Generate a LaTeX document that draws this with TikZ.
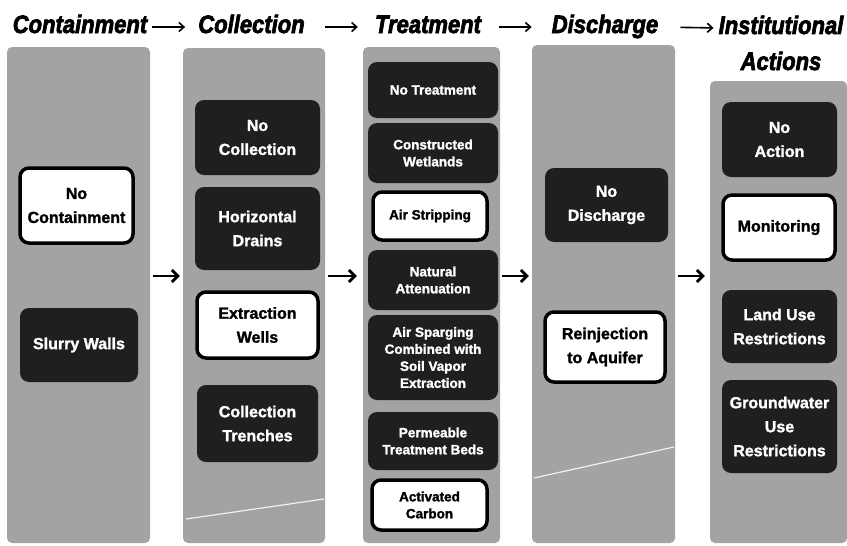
\documentclass[tikz,border=0pt]{standalone}
\usepackage{fontspec}
\setmainfont{Liberation Sans}
\newfontfamily\headfont[FakeBold=3]{Liberation Sans Bold Italic}
\newfontfamily\boxfont[FakeBold=1.5]{Liberation Sans Bold}
\usetikzlibrary{arrows.meta}

\tikzset{
  column/.style={fill=black!36, rounded corners=5pt, inner sep=0pt},
  darkbox/.style={fill=black!88, rounded corners=9pt, text=white, align=center,
    inner sep=0pt, font=\boxfont\fontsize{16}{24}\selectfont},
  litebox/.style={fill=white, draw=black, line width=3.5pt, rounded corners=9pt,
    text=black, align=center, inner sep=0pt, font=\boxfont\fontsize{16}{24}\selectfont},
  smalltext/.style={font=\boxfont\fontsize{13.5}{17}\selectfont},
  header/.style={font=\headfont\fontsize{22}{26}\selectfont,
    inner sep=0pt, text height=18pt, text depth=0pt, anchor=base},
  flow/.style={line width=2.8pt, -{Straight Barb[length=6pt,width=12pt]}},
  headflow/.style={line width=1.6pt, -{Straight Barb[length=5pt,width=9pt]}},
  scratch/.style={white, line width=1.2pt, opacity=0.85},
}
\newcommand{\tall}[1]{\scalebox{1}[1.15]{#1}}

\begin{document}
\begin{tikzpicture}[x=1pt, y=-1pt]
  \useasboundingbox[fill=white] (0,0) rectangle (847,546);

  % stage headings
  \node[header] (h1) at (80,33)    {\tall{Containment}};
  \node[header] (h2) at (251.5,33) {\tall{Collection}};
  \node[header] (h3) at (428,33)   {\tall{Treatment}};
  \node[header] (h4) at (605,33)   {\tall{Discharge}};
  \node[header] (h5) at (781,34)   {\tall{Institutional}};
  \node[header] (h5b) at (781,70)  {\tall{Actions}};

  \draw[headflow, shorten <=5pt, shorten >=13pt] ([yshift=-3pt]h1.east) -- ([yshift=-3pt]h2.west);
  \draw[headflow, shorten <=20pt, shorten >=17pt] ([yshift=-3pt]h2.east) -- ([yshift=-3pt]h3.west);
  \draw[headflow, shorten <=18pt, shorten >=20pt] ([yshift=-3pt]h3.east) -- ([yshift=-3pt]h4.west);
  \draw[headflow, shorten <=22pt, shorten >=5pt] ([yshift=-3pt]h4.east) -- ([yshift=-3pt]h5.west);

  % stage columns
  \node[column, minimum width=143pt, minimum height=496pt] (c1) at (78.5,295)  {};
  \node[column, minimum width=142pt, minimum height=495pt] (c2) at (254,295.5) {};
  \node[column, minimum width=137pt, minimum height=496pt] (c3) at (431.5,295) {};
  \node[column, minimum width=143pt, minimum height=498pt] (c4) at (603.5,294) {};
  \node[column, minimum width=137pt, minimum height=462pt] (c5) at (778.5,312) {};

  % scratches across the background
  \draw[scratch] (186,519) -- (324,499);
  \draw[scratch] (534,478) -- (674,447);

  % containment
  \node[litebox, minimum width=113pt, minimum height=75pt] (b11) at (76.5,205.5) {No\\Containment};
  \node[darkbox, minimum width=118pt, minimum height=74pt] (b12) at (79,345) {Slurry Walls};

  % collection
  \node[darkbox, minimum width=125pt, minimum height=75pt] (b21) at (257.5,137.5) {No\\Collection};
  \node[darkbox, minimum width=125pt, minimum height=83pt] (b22) at (257.5,228.5) {Horizontal\\Drains};
  \node[litebox, minimum width=121pt, minimum height=66pt] (b23) at (257.5,325)   {Extraction\\Wells};
  \node[darkbox, minimum width=121pt, minimum height=77pt] (b24) at (257.5,423.5) {Collection\\Trenches};

  % treatment
  \node[darkbox, smalltext, minimum width=130pt, minimum height=56pt] (b31) at (433,90)    {No Treatment};
  \node[darkbox, smalltext, minimum width=130pt, minimum height=60pt] (b32) at (433,153)   {Constructed\\Wetlands};
  \node[litebox, smalltext, minimum width=114pt, minimum height=48pt] (b33) at (430,216)   {Air Stripping};
  \node[darkbox, smalltext, minimum width=130pt, minimum height=60pt] (b34) at (433,280)   {Natural\\Attenuation};
  \node[darkbox, smalltext, minimum width=130pt, minimum height=85pt] (b35) at (433,357.5) {Air Sparging\\Combined with\\Soil Vapor\\Extraction};
  \node[darkbox, smalltext, minimum width=130pt, minimum height=58pt] (b36) at (433,441)   {Permeable\\Treatment Beds};
  \node[litebox, smalltext, minimum width=115pt, minimum height=50pt] (b37) at (429.5,505) {Activated\\Carbon};

  % discharge
  \node[darkbox, minimum width=123pt, minimum height=74pt] (b41) at (606.5,205) {No\\Discharge};
  \node[litebox, minimum width=120pt, minimum height=70pt] (b42) at (605,347)   {Reinjection\\to Aquifer};

  % institutional actions
  \node[darkbox, minimum width=115pt, minimum height=75pt] (b51) at (779.5,139.5) {No\\Action};
  \node[litebox, minimum width=112pt, minimum height=65pt] (b52) at (779,227.5)   {Monitoring};
  \node[darkbox, minimum width=115pt, minimum height=73pt] (b53) at (779.5,326.5) {Land Use\\Restrictions};
  \node[darkbox, minimum width=115pt, minimum height=93pt] (b54) at (779.5,426.5) {Groundwater\\Use\\Restrictions};

  % flow between stages
  \coordinate (ay) at (0,276);
  \draw[flow, shorten <=3pt, shorten >=3pt] (c1.east |- ay) -- (c2.west |- ay);
  \draw[flow, shorten <=3pt, shorten >=6pt] (c2.east |- ay) -- (c3.west |- ay);
  \draw[flow, shorten <=2pt, shorten >=3pt] (c3.east |- ay) -- (c4.west |- ay);
  \draw[flow, shorten <=3pt, shorten >=5pt] (c4.east |- ay) -- (c5.west |- ay);
\end{tikzpicture}
\end{document}
